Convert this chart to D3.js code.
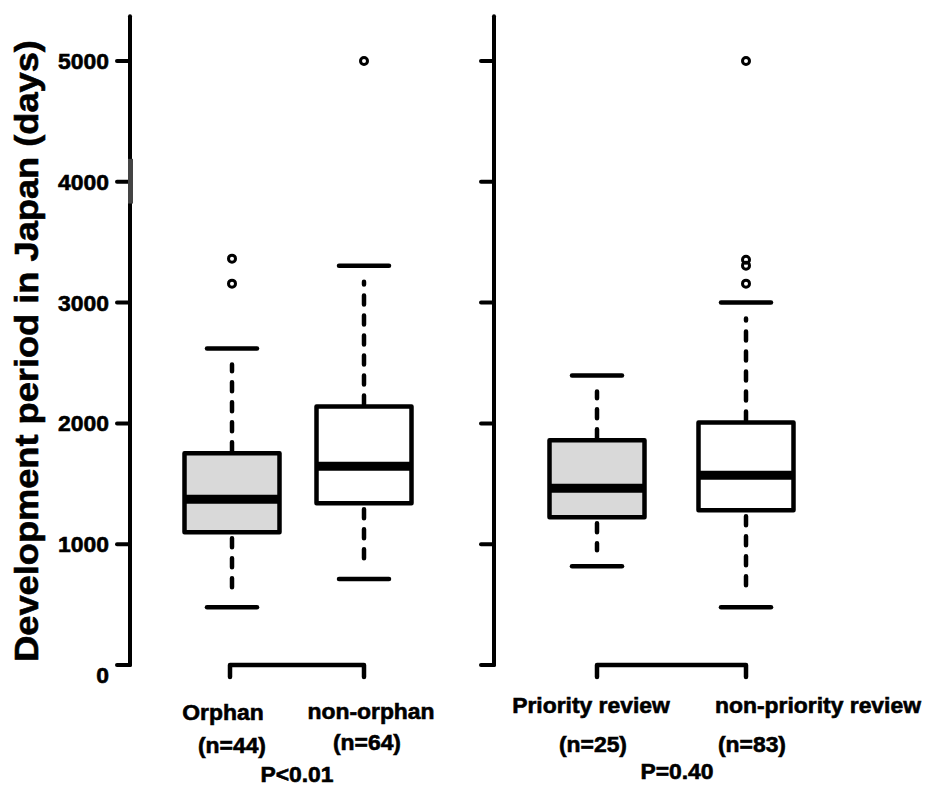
<!DOCTYPE html>
<html>
<head>
<meta charset="utf-8">
<script src="https://cdn.jsdelivr.net/npm/d3@7"></script>
<style>
body { margin:0; background:#fff; }
text { font-family: "Liberation Sans", Arial, sans-serif; font-weight: bold; fill:#000; stroke:#000; stroke-width:0.6px; }
</style>
</head>
<body>
<div id="demo"></div>
<script>

// groups (left panel: orphan, right panel: priority review)
var groupsLeft = ['Orphan', 'non-orphan'];
var groupsRight = ['Priority review', 'non-priority review'];
var nLeft = ['(n=44)', '(n=64)'];
var nRight = ['(n=25)', '(n=83)'];
var pValues = ['P<0.01', 'P=0.40'];

// box statistics, order: Orphan, non-orphan, Priority, non-priority
var lowerWhisker = [479, 711, 818, 479];
var q1 = [1099, 1339, 1223, 1281];
var median = [1372, 1645, 1463, 1570];
var q3 = [1752, 2140, 1860, 2008];
var upperWhisker = [2620, 3306, 2397, 3000];
var outliers = [[3157, 3364], [5000], [], [3157, 3306, 3355, 5000]];
var filled = [true, false, true, false];

var yTicks = [0, 1000, 2000, 3000, 4000, 5000];

var W = 927, H = 788;

var yScale = d3.scaleLinear()
	.domain([0, 5000])
	.range([665, 61]);

var xLeft = d3.scalePoint().domain(groupsLeft).range([232, 364]);
var xRight = d3.scalePoint().domain(groupsRight).range([597, 746]);

var svg = d3.select('#demo').append('svg')
	.attr('width', W)
	.attr('height', H);

// axes
function drawAxis(x0, withLabels){
	var g = svg.append('g');
	g.append('line')
		.attr('x1', x0).attr('x2', x0)
		.attr('y1', yScale(0)).attr('y2', yScale(5370))
		.attr('stroke', '#000').attr('stroke-width', 4)
		.attr('stroke-linecap', 'round');
	g.selectAll('.tick').data(yTicks).enter().append('line')
		.attr('x1', x0 - 13).attr('x2', x0)
		.attr('y1', function(d){ return yScale(d); })
		.attr('y2', function(d){ return yScale(d); })
		.attr('stroke', '#000').attr('stroke-width', 4)
		.attr('stroke-linecap', 'round');
	if (withLabels) {
		g.selectAll('.lbl').data(yTicks).enter().append('text')
			.attr('class', 'stretch')
			.attr('data-k', 1.04)
			.attr('x', x0 - 21)
			.attr('y', function(d){ return yScale(d) + (d === 0 ? 18 : 8); })
			.attr('text-anchor', 'end')
			.style('font-size', '22px')
			.text(function(d){ return d; });
	}
	return g;
}
drawAxis(130, true);
drawAxis(494, false);

// small grey blemish on the left axis
svg.append('rect')
	.attr('x', 128).attr('y', yScale(4190))
	.attr('width', 5).attr('height', yScale(3820) - yScale(4190))
	.attr('fill', '#444');

// y title
svg.append('text')
	.attr('class', 'stretch')
	.attr('data-k', 1.065)
	.attr('transform', 'translate(38,351) rotate(-90)')
	.attr('text-anchor', 'middle')
	.style('font-size', '34px')
	.text('Development period in Japan (days)');

// boxes
var boxW = 95, capW = 50, gapCap = 16;
var centers = [xLeft(groupsLeft[0]), xLeft(groupsLeft[1]), xRight(groupsRight[0]), xRight(groupsRight[1])];

centers.forEach(function(cx, i){
	var g = svg.append('g');
	// whiskers (dashed)
	g.append('line')
		.attr('x1', cx).attr('x2', cx)
		.attr('y1', yScale(q3[i]) - 2).attr('y2', yScale(upperWhisker[i]) + gapCap)
		.attr('stroke', '#000').attr('stroke-width', 4.5)
		.attr('stroke-dasharray', '9,11').attr('stroke-linecap', 'round');
	g.append('line')
		.attr('x1', cx).attr('x2', cx)
		.attr('y1', yScale(q1[i]) + 6).attr('y2', yScale(lowerWhisker[i]) - gapCap)
		.attr('stroke', '#000').attr('stroke-width', 4.5)
		.attr('stroke-dasharray', '9,11').attr('stroke-linecap', 'round');
	// caps
	[upperWhisker[i], lowerWhisker[i]].forEach(function(v){
		g.append('line')
			.attr('x1', cx - capW / 2).attr('x2', cx + capW / 2)
			.attr('y1', yScale(v)).attr('y2', yScale(v))
			.attr('stroke', '#000').attr('stroke-width', 4.5)
			.attr('stroke-linecap', 'round');
	});
	// box
	g.append('rect')
		.attr('x', cx - boxW / 2).attr('width', boxW)
		.attr('y', yScale(q3[i])).attr('height', yScale(q1[i]) - yScale(q3[i]))
		.attr('fill', filled[i] ? '#d9d9d9' : '#fff')
		.attr('stroke', '#000').attr('stroke-width', 4.5)
		.attr('stroke-linejoin', 'round');
	// median
	g.append('line')
		.attr('x1', cx - boxW / 2).attr('x2', cx + boxW / 2)
		.attr('y1', yScale(median[i])).attr('y2', yScale(median[i]))
		.attr('stroke', '#000').attr('stroke-width', 9);
	// outliers
	g.selectAll('circle').data(outliers[i]).enter().append('circle')
		.attr('cx', cx)
		.attr('cy', function(d){ return yScale(d); })
		.attr('r', 3.5)
		.attr('fill', 'none')
		.attr('stroke', '#000').attr('stroke-width', 3);
});

// brackets
function bracket(xa, xb){
	svg.append('path')
		.attr('d', d3.line()([[xa, 677], [xa, yScale(0)], [xb, yScale(0)], [xb, 677]]))
		.attr('fill', 'none')
		.attr('stroke', '#000').attr('stroke-width', 4.5)
		.attr('stroke-linecap', 'round').attr('stroke-linejoin', 'round');
}
bracket(centers[0] - 2, centers[1]);
bracket(centers[2], centers[3]);

// category labels
function label(txt, x, y){
	svg.append('text')
		.attr('class', 'stretch')
		.attr('data-k', 1.04)
		.attr('x', x).attr('y', y)
		.attr('text-anchor', 'middle')
		.style('font-size', '22px')
		.text(txt);
}
label(groupsLeft[0], 223, 720);
label(groupsLeft[1], 371, 719);
label(nLeft[0], 232, 753);
label(nLeft[1], 367, 750);
label(pValues[0], 297, 782);

label(groupsRight[0], 591, 713);
label(groupsRight[1], 818, 713);
label(nRight[0], 593, 752);
label(nRight[1], 752, 752);
label(pValues[1], 677, 779);

// the reference text is slightly wider than the font
svg.selectAll('.stretch').each(function(){
	var len = this.getComputedTextLength();
	var k = +this.getAttribute('data-k');
	d3.select(this)
		.attr('textLength', len * k)
		.attr('lengthAdjust', 'spacingAndGlyphs');
});

</script>
</body>
</html>
